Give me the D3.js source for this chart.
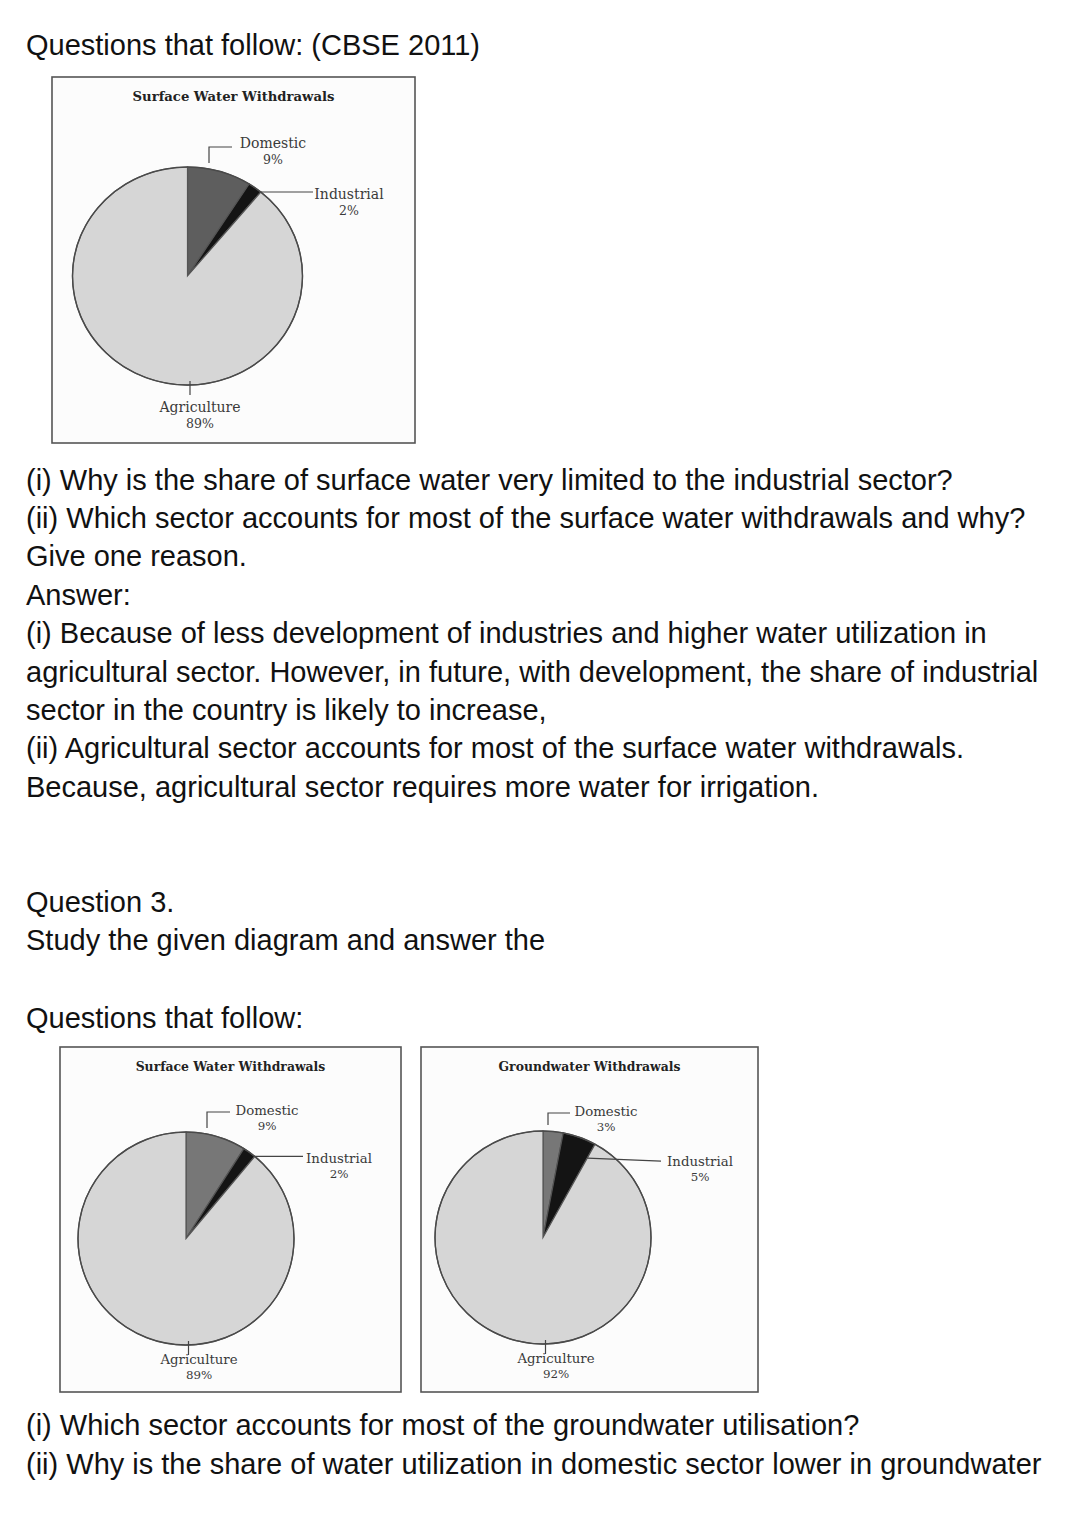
<!DOCTYPE html>
<html>
<head>
<meta charset="utf-8">
<script src="https://cdn.jsdelivr.net/npm/d3@7"></script>
<style>
  html, body { margin: 0; padding: 0; background: #fff; }
  svg { display: block; }
</style>
</head>
<body>
<svg id="page" width="1080" height="1527"></svg>
<script>
// ---------- DATA ----------
const sectors = ["Domestic", "Industrial", "Agriculture"];
const surfaceShares = [9, 2, 89];
const groundShares = [3, 5, 92];
const surfaceTitle = "Surface Water Withdrawals";
const groundTitle = "Groundwater Withdrawals";

const topLines = ["Questions that follow: (CBSE 2011)"];
const midLines = [
  "(i) Why is the share of surface water very limited to the industrial sector?",
  "(ii) Which sector accounts for most of the surface water withdrawals and why?",
  "Give one reason.",
  "Answer:",
  "(i) Because of less development of industries and higher water utilization in",
  "agricultural sector. However, in future, with development, the share of industrial",
  "sector in the country is likely to increase,",
  "(ii) Agricultural sector accounts for most of the surface water withdrawals.",
  "Because, agricultural sector requires more water for irrigation."
];
const q3Lines = ["Question 3.", "Study the given diagram and answer the"];
const q3Follow = ["Questions that follow:"];
const bottomLines = [
  "(i) Which sector accounts for most of the groundwater utilisation?",
  "(ii) Why is the share of water utilization in domestic sector lower in groundwater"
];

// ---------- LAYOUT ----------
const svg = d3.select("#page");
const bodyFont = "'Liberation Sans', Arial, sans-serif";
const serif = "'DejaVu Serif', 'Liberation Serif', serif";
const bodySize = 29;

function textBlock(lines, x, firstCenter, step) {
  svg.append("g").selectAll("text").data(lines).join("text")
    .attr("x", x)
    .attr("y", (d, i) => firstCenter + i * step + 10.5)
    .attr("font-family", bodyFont)
    .attr("font-size", bodySize)
    .attr("fill", "#111")
    .text(d => d);
}
textBlock(topLines, 26, 44, 38.4);
textBlock(midLines, 26, 479, 38.4);
textBlock(q3Lines, 26, 901, 38.8);
textBlock(q3Follow, 26, 1017, 38.4);
textBlock(bottomLines, 26, 1424, 39);

const colors = { Domestic: "#5e5e5e", Industrial: "#141414", Agriculture: "#d6d6d6" };

const charts = [
  { title: surfaceTitle, shares: surfaceShares,
    box: [52, 77, 363, 366], titleY: 101, titleSize: 13.2,
    cx: 187.5, cy: 276, rx: 115, ry: 109, labelSize: 14,
    leaderR: 1.0,
    lab: { Domestic: [273, 143], Industrial: [349, 194], Agriculture: [200, 407] },
    indEndX: 313, domBracketX: 209, domBracketTop: 147, domBracketEnd: 232 },
  { title: surfaceTitle, shares: surfaceShares,
    box: [60, 1047, 341, 345], titleY: 1071, titleSize: 12.4,
    cx: 186, cy: 1238.5, rx: 108, ry: 106.5, labelSize: 13.3,
    leaderR: 1.0,
    lab: { Domestic: [267, 1110], Industrial: [339, 1158], Agriculture: [199, 1359] },
    indEndX: 303, domBracketX: 207, domBracketTop: 1112, domBracketEnd: 230 },
  { title: groundTitle, shares: groundShares,
    box: [421, 1047, 337, 345], titleY: 1071, titleSize: 12.4,
    cx: 543, cy: 1237.5, rx: 108, ry: 106.5, labelSize: 13.3,
    leaderR: 0.85,
    lab: { Domestic: [606, 1111], Industrial: [700, 1161], Agriculture: [556, 1358] },
    indEndX: 661, domBracketX: 548, domBracketTop: 1113, domBracketEnd: 570 }
];

const pie = d3.pie().sort(null).value(d => d.v);

charts.forEach((c, ci) => {
  const g = svg.append("g");
  const [bx, by, bw, bh] = c.box;
  g.append("rect").attr("x", bx).attr("y", by).attr("width", bw).attr("height", bh)
    .attr("fill", "#fcfcfc").attr("stroke", "#555").attr("stroke-width", 1.6);
  g.append("text").attr("x", bx + bw / 2).attr("y", c.titleY)
    .attr("text-anchor", "middle").attr("font-family", serif).attr("font-weight", "bold")
    .attr("font-size", c.titleSize).attr("fill", "#222").text(c.title);

  const data = sectors.map((s, i) => ({ s, v: c.shares[i] }));
  const arcs = pie(data);
  const arc = d3.arc().innerRadius(0).outerRadius(c.rx);
  const sy = c.ry / c.rx;
  const pg = g.append("g").attr("transform", `translate(${c.cx},${c.cy}) scale(1,${sy})`);
  pg.selectAll("path").data(arcs).join("path")
    .attr("d", arc)
    .attr("fill", d => (ci > 0 && d.data.s === "Domestic") ? "#777" : colors[d.data.s])
    .attr("stroke", "#555").attr("stroke-width", 1.2)
    .attr("vector-effect", "non-scaling-stroke");
  pg.append("ellipse").attr("rx", c.rx).attr("ry", c.rx).attr("fill", "none")
    .attr("stroke", "#4a4a4a").attr("stroke-width", 1.4).attr("vector-effect", "non-scaling-stroke");

  const pt = (ang, rf) => [c.cx + rf * c.rx * Math.sin(ang), c.cy - rf * c.ry * Math.cos(ang)];
  const lineAttr = sel => sel.attr("stroke", "#444").attr("stroke-width", 1.2).attr("fill", "none");

  const topAtX = c.cy - c.ry * Math.sqrt(Math.max(0, 1 - Math.pow((c.domBracketX - c.cx) / c.rx, 2)));
  lineAttr(g.append("path").attr("d",
    `M${c.domBracketX},${topAtX - 6}V${c.domBracketTop}H${c.domBracketEnd}`));
  const ind = arcs[1];
  const p = pt(ind.endAngle, c.leaderR);
  lineAttr(g.append("path").attr("d", `M${p[0]},${p[1]}L${c.indEndX},${p[1] + (c.leaderR < 1 ? 3 : 0)}`));
  const bottom = pt(Math.PI, 1);
  lineAttr(g.append("path").attr("d", `M${bottom[0] + 2.5},${bottom[1] - 4}V${bottom[1] + 10}`));

  arcs.forEach(a => {
    const [lx, ly] = c.lab[a.data.s];
    const t = g.append("text").attr("text-anchor", "middle").attr("font-family", serif)
      .attr("font-size", c.labelSize).attr("fill", "#3a3a3a");
    t.append("tspan").attr("x", lx).attr("y", ly + 4.5).text(a.data.s);
    t.append("tspan").attr("x", lx).attr("y", ly + 4.5 + (c.labelSize + 2)).attr("font-size", c.labelSize - 1.5)
      .text(a.data.v + "%");
  });
});
</script>
</body>
</html>
